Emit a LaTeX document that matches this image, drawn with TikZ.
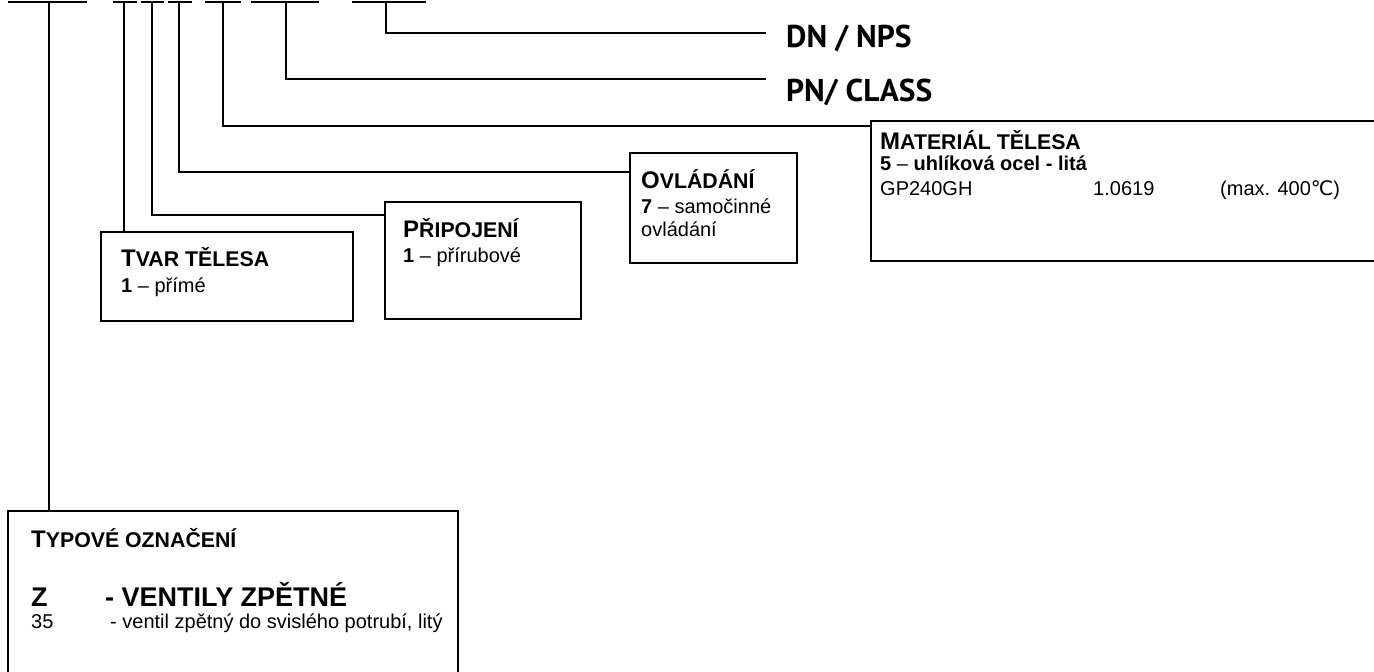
\documentclass[tikz,border=0pt]{standalone}
\usepackage{fontspec}
\setmainfont{Liberation Sans}
\newfontfamily\ptsans{PT Sans}
\newfontfamily\dejavu{DejaVu Sans}
\newcommand\hsc[2]{{\fontsize{24}{28}\selectfont\bfseries #1}{\fontsize{21.3}{24}\selectfont\bfseries #2}}
\begin{document}
\begin{tikzpicture}[x=1pt,y=-1pt,
  box/.style={draw, line width=1.3pt, anchor=north west, inner sep=0pt, outer sep=0pt},
  txt/.style={anchor=base west, inner sep=0pt, font=\fontsize{20}{23}\selectfont},
  big/.style={anchor=base west, inner sep=0pt, font=\ptsans\bfseries\fontsize{31.5}{36}\selectfont},
  conn/.style={line width=1.3pt},
  bar/.style={line width=2pt}]
\clip (0,0) rectangle (1374,672);
% top bars
\foreach \a/\b in {8/87,113/137,141/164,168/192,205/241,251/319,352/426}{
  \draw[bar] (\a,2) -- (\b,2);
}
\coordinate (t1) at (49,2);
\coordinate (t2) at (124,2);
\coordinate (t3) at (152,2);
\coordinate (t4) at (179,2);
\coordinate (t5) at (223,2);
\coordinate (t6) at (286,2);
\coordinate (t7) at (386,2);
% boxes
\node[box, minimum width=450pt, minimum height=200pt] (typ) at (8,511) {};
\node[box, minimum width=252pt, minimum height=89pt] (tvar) at (101,232) {};
\node[box, minimum width=196pt, minimum height=117pt] (prip) at (385,202) {};
\node[box, minimum width=167pt, minimum height=110pt] (ovl) at (630,153) {};
\node[box, minimum width=540pt, minimum height=140pt] (mat) at (871,121) {};
% right-side labels
\node[big] (dn) at (786,47) {DN / NPS};
\node[big] (pn) at (786,101) {PN/ CLASS};
\coordinate (dnl) at (766,33);
\coordinate (pnl) at (766,79);
% connectors
\draw[conn] (t7) |- (dnl);
\draw[conn] (t6) |- (pnl);
\draw[conn] (t5) |- (mat.west |- 0,126);
\draw[conn] (t4) |- (ovl.west |- 0,172);
\draw[conn] (t3) |- (prip.west |- 0,215);
\draw[conn] (t2) -- (t2 |- tvar.north);
\draw[conn] (t1) -- (t1 |- typ.north);
% texts
\node[txt] (tvh) at (121,266) {\hsc{T}{VAR TĚLESA}};
\node[txt] (tvb) at (121,292) {\textbf{1} – přímé};
\node[txt] (prh) at (403,237) {\hsc{P}{ŘIPOJENÍ}};
\node[txt] (prb) at (403,262) {\textbf{1} – přírubové};
\node[txt] (ovh) at (641,188) {\hsc{O}{VLÁDÁNÍ}};
\node[txt] (ovb1) at (641,213) {\textbf{7} – samočinné};
\node[txt] (ovb2) at (641,236) {ovládání};
\node[txt] (mah) at (880,149) {\hsc{M}{ATERIÁL TĚLESA}};
\node[txt] (mab) at (880,170) {\textbf{5} – \textbf{uhlíková ocel - litá}};
\node[txt] (ma1) at (880,195) {GP240GH};
\node[txt] (ma2) at (1093,195) {1.0619};
\node[txt] (ma3) at (1220,195) {(max. 400{\dejavu ℃})};
\node[txt] (tyh) at (31,547) {\hsc{T}{YPOVÉ OZNAČENÍ}};
\node[txt, font=\bfseries\fontsize{27}{31}\selectfont] (tyz) at (31,606) {Z};
\node[txt, font=\bfseries\fontsize{27}{31}\selectfont] (tyv) at (105,606) {- VENTILY ZPĚTNÉ};
\node[txt] (ty35) at (31,628) {35};
\node[txt] (tyd) at (110,628) {- ventil zpětný do svislého potrubí, litý};
\end{tikzpicture}
\end{document}
